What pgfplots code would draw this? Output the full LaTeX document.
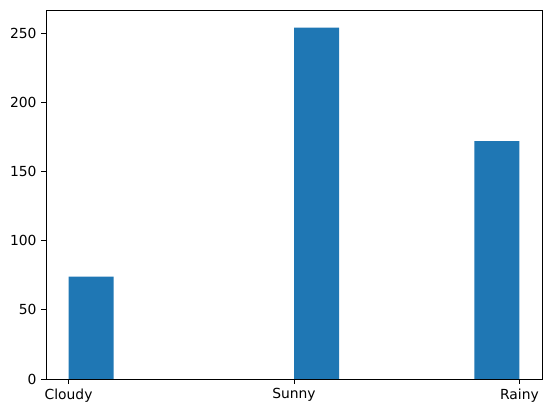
\documentclass[border=0pt]{standalone}
\usepackage{fontspec}
\setmainfont{DejaVu Sans}
\usepackage{pgfplots}
\pgfplotsset{compat=1.18}
\definecolor{mplblue}{HTML}{1F77B4}
\begin{document}
\begin{tikzpicture}
\begin{axis}[
  scale only axis,
  width=372pt, height=276.75pt,
  xmin=-0.1, xmax=2.1,
  ymin=0, ymax=266.7,
  xtick={0,1,2},
  xticklabels={Cloudy,Sunny,Rainy},
  ytick={0,50,100,150,200,250},
  tick align=outside,
  tick pos=left,
  major tick length=3.6pt,
  tick style={black, line width=0.6pt},
  axis line style={line width=0.6pt},
  /pgf/number format/assume math mode=true,
  tick label style={font=\fontsize{10.4}{12}\selectfont},
  axis on top,
]
\addplot[ybar interval, fill=mplblue, draw=none] coordinates {
  (0,74) (0.2,0) (0.4,0) (0.6,0) (0.8,0) (1.0,254) (1.2,0) (1.4,0) (1.6,0) (1.8,172) (2.0,172)
};
\end{axis}
\pgfresetboundingbox
\path (current axis.south west) ++(-34.5pt,-25.5pt) rectangle ([shift={(7.5pt,7.5pt)}]current axis.north east);
\end{tikzpicture}
\end{document}
